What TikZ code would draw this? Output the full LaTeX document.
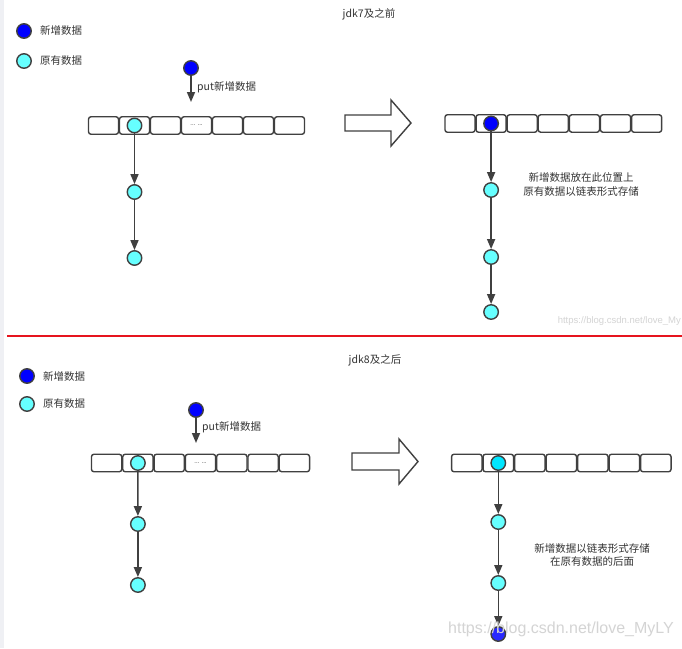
\documentclass[tikz,border=0pt]{standalone}
\usepackage{fontspec}
\setmainfont{Liberation Sans}
\newfontfamily\cjk{Noto Sans CJK SC}
\usetikzlibrary{arrows.meta}
\definecolor{linec}{RGB}{64,64,64}
\definecolor{newc}{RGB}{0,0,255}
\definecolor{newc2}{RGB}{40,40,255}
\definecolor{oldc}{RGB}{102,255,255}
\definecolor{oldc2}{RGB}{0,230,255}
\definecolor{txt}{RGB}{51,51,51}
\definecolor{redl}{RGB}{230,20,30}
\definecolor{stripc}{RGB}{239,240,244}
\definecolor{wm}{RGB}{212,212,212}
\begin{document}
\begin{tikzpicture}[x=1pt,y=-1pt,
  cell/.style={draw=linec,line width=1.4pt,rounded corners=2.5pt,minimum height=17.5pt,inner sep=0pt},
  dot/.style={circle,draw=linec,line width=1.4pt,minimum size=14.5pt,inner sep=0pt},
  newdot/.style={dot,fill=newc},
  olddot/.style={dot,fill=oldc},
  link/.style={draw=linec,line width=1.6pt,-{Triangle[length=10pt,width=8pt]}},
  lbl/.style={font=\cjk\fontsize{10.5}{12}\selectfont,text=txt,inner sep=0pt},
  bigarrow/.style={draw=linec,line width=1.4pt,line join=miter,fill=white},
  wmark/.style={text=wm,inner sep=0pt}
]
\useasboundingbox (0,0) rectangle (682,648);
\fill[white] (0,0) rectangle (682,648);
\fill[stripc] (0,0) rectangle (4,648);

% ---------------- top: jdk7 ----------------
\node[lbl] (T1) at (369,14) {jdk7及之前};
\node[newdot] (LA1) at (24,31) {};
\node[lbl,anchor=west] (LA1t) at (40,31) {新增数据};
\node[olddot] (LA2) at (24,61) {};
\node[lbl,anchor=west] (LA2t) at (40,61) {原有数据};

\foreach \i in {0,...,6} \node[cell,minimum width=30pt] (A\i) at ({103.5+31*\i},125.5) {};
\node[font=\fontsize{6}{6}\selectfont,text=txt,inner sep=0pt] (A3t) at (A3) {... ...};

\node[newdot] (P1) at (191,68) {};
\coordinate (P1e) at (191,102);
\draw[link] (P1) -- (P1e);
\node[lbl,anchor=west] (P1t) at (197,87) {put新增数据};

\node[olddot] (A1c) at (A1.center) {};
\node[olddot] (A1n1) at (134.5,192) {};
\node[olddot] (A1n2) at (134.5,258) {};
\draw[link] (A1c) -- (A1n1);
\draw[link] (A1n1) -- (A1n2);

\draw[bigarrow] (345,115) -- (391,115) -- (391,100) -- (411,123) -- (391,146) -- (391,131) -- (345,131) -- cycle;

\foreach \i in {0,...,6} \node[cell,minimum width=30.1pt] (B\i) at ({460+31.1*\i},123.5) {};
\node[newdot] (B1c) at (B1.center) {};
\node[olddot] (B1n1) at (491.1,190) {};
\node[olddot] (B1n2) at (491.1,257) {};
\node[olddot] (B1n3) at (491.1,312) {};
\draw[link] (B1c) -- (B1n1);
\draw[link] (B1n1) -- (B1n2);
\draw[link] (B1n2) -- (B1n3);
\node[lbl] (R1a) at (581,177) {新增数据放在此位置上};
\node[lbl] (R1b) at (581,192) {原有数据以链表形式存储};

\node[wmark,font=\fontsize{9.5}{10}\selectfont,anchor=east] (W1) at (681,321) {https://blog.csdn.net/love\_My};

\draw[redl,line width=2pt] (7,335.5) -- (682,335.5);

% ---------------- bottom: jdk8 ----------------
\node[lbl] (T2) at (375,360) {jdk8及之后};
\node[newdot] (LB1) at (27,376) {};
\node[lbl,anchor=west] (LB1t) at (43,376) {新增数据};
\node[olddot] (LB2) at (27,404) {};
\node[lbl,anchor=west] (LB2t) at (43,404) {原有数据};

\foreach \i in {0,...,6} \node[cell,minimum width=30.3pt] (C\i) at ({106.6+31.3*\i},463) {};
\node[font=\fontsize{6}{6}\selectfont,text=txt,inner sep=0pt] (C3t) at (C3) {... ...};

\node[newdot] (P2) at (196,410) {};
\coordinate (P2e) at (196,443);
\draw[link] (P2) -- (P2e);
\node[lbl,anchor=west] (P2t) at (202,427) {put新增数据};

\node[olddot] (C1c) at (C1.center) {};
\node[olddot] (C1n1) at (137.9,524) {};
\node[olddot] (C1n2) at (137.9,585) {};
\draw[link] (C1c) -- (C1n1);
\draw[link] (C1n1) -- (C1n2);

\draw[bigarrow] (352,453) -- (399,453) -- (399,439) -- (418,461.5) -- (399,484) -- (399,470) -- (352,470) -- cycle;

\foreach \i in {0,...,6} \node[cell,minimum width=30.5pt] (D\i) at ({466.8+31.5*\i},463) {};
\node[dot,fill=oldc2] (D1c) at (D1.center) {};
\node[olddot] (D1n1) at (498.3,522) {};
\node[olddot] (D1n2) at (498.3,583) {};
\node[dot,fill=newc2] (D1n3) at (498.3,634) {};
\draw[link] (D1c) -- (D1n1);
\draw[link] (D1n1) -- (D1n2);
\draw[link] (D1n2) -- (D1n3);
\node[lbl] (R2a) at (592,549) {新增数据以链表形式存储};
\node[lbl] (R2b) at (592,561) {在原有数据的后面};

\node[wmark,font=\fontsize{16}{17}\selectfont,anchor=west] (W2) at (448,629) {https://blog.csdn.net/love\_MyLY};
\end{tikzpicture}
\end{document}
